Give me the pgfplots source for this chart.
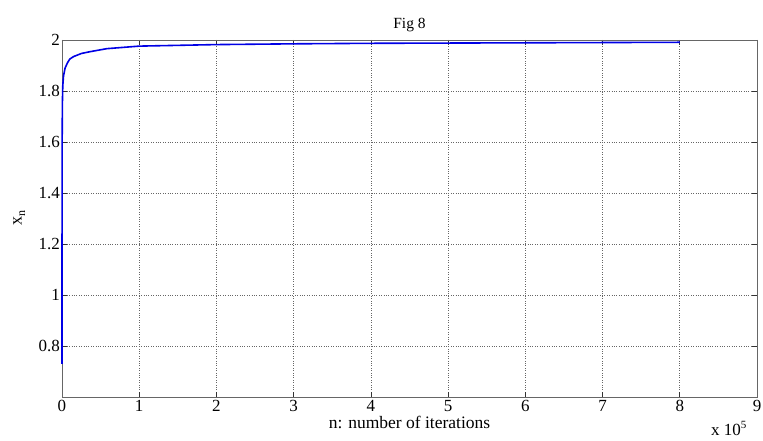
\documentclass[border=0pt]{standalone}
\usepackage{fontspec}
\setmainfont{Liberation Serif}
\usepackage{pgfplots}
\pgfplotsset{compat=1.18}
\begin{document}
\begin{tikzpicture}[x=1pt,y=1pt]
\useasboundingbox (-62,-44) rectangle (701,397);
\begin{axis}[
  at={(0,0)}, anchor=south west,
  scale only axis, width=695pt, height=357pt,
  xmin=0, xmax=9, ymin=0.6, ymax=2,
  xtick={0,1,...,9}, ytick={0.8,1,1.2,1.4,1.6,1.8,2},
  yticklabels={0.8,1,1.2,1.4,1.6,1.8,2},
  /pgf/number format/assume math mode=true,
  tick align=inside, tick pos=both,
  major tick length=5pt,
  axis line style={draw=gray!80!black},
  tick style={draw=black!80, line width=0.6pt},
  grid=major,
  major grid style={dotted, draw=gray!80!black, line width=0.6pt},
  ticklabel style={font=\fontsize{17}{19}\selectfont},
  xticklabel style={inner sep=2pt, yshift=-1pt},
  yticklabel style={inner sep=2pt},
  title={Fig 8}, title style={font=\fontsize{15.5}{17}\selectfont, yshift=-1pt},
  xlabel={n: number of iterations}, xlabel style={font=\fontsize{17.5}{19}\selectfont, yshift=1pt},
  ylabel={x\raisebox{-0.4ex}{\fontsize{12}{14}\selectfont n}}, ylabel style={font=\fontsize{18}{20}\selectfont, yshift=8pt},
  clip=false,
]
\addplot[blue!90!black, line width=1.6pt] coordinates {
(0,0.73) (0.0005,1.2) (0.002,1.6) (0.005,1.75) (0.01,1.82) (0.02,1.86) (0.04,1.89) (0.07,1.91) (0.1,1.925) (0.15,1.935) (0.25,1.947) (0.36,1.954) (0.58,1.966) (1,1.976) (1.5,1.979) (2,1.982) (3,1.985) (4,1.987) (5,1.988) (6,1.989) (7,1.99) (8,1.991)
};
\node[anchor=south east, font=\fontsize{17}{19}\selectfont, inner sep=0pt] at (rel axis cs:0.985,-0.108) {x 10\raisebox{0.8ex}{\fontsize{11}{12}\selectfont 5}};
\end{axis}
\end{tikzpicture}
\end{document}
